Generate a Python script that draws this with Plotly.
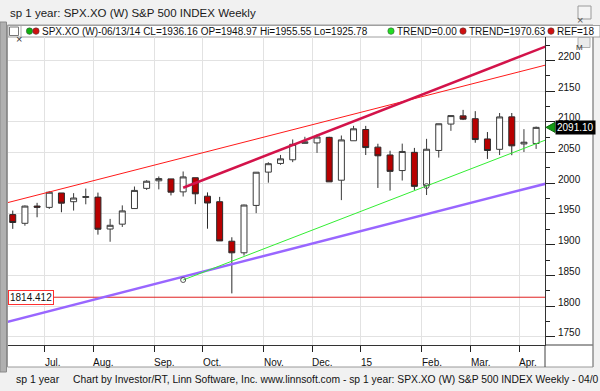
import plotly.graph_objects as go
import pandas as pd

# ---------------- data ----------------
first_bar = "2014-06-13"
opens  = [1948.97, 1934.84, 1962.92, 1960.79, 1984.22, 1970.00, 1976.93, 1977.50, 1925.50, 1933.43,
          1958.87, 1991.74, 2004.07, 2007.17, 1986.04, 2009.08, 1978.96, 1970.01, 1905.65, 1886.76,
          1963.96, 2018.21, 2032.36, 2038.29, 2065.07, 2065.78, 2074.84, 2005.03, 2069.28, 2087.63,
          2058.90, 2046.13, 2020.76, 2050.42, 1996.67, 2053.47, 2096.47, 2109.83, 2105.23, 2072.25,
          2055.35, 2108.20, 2064.11, 2064.87]
highs  = [1955.55, 1963.91, 1968.17, 1987.00, 1984.22, 1983.94, 1991.39, 1984.85, 1942.00, 1964.04,
          1994.76, 2005.04, 2011.17, 2007.17, 2019.26, 2009.08, 1985.17, 1977.84, 1912.09, 1965.27,
          2018.19, 2034.26, 2046.18, 2071.46, 2075.76, 2079.47, 2075.78, 2077.85, 2093.55, 2093.55,
          2064.43, 2053.00, 2064.62, 2057.62, 2072.40, 2097.03, 2110.61, 2119.59, 2117.52, 2083.49,
          2114.50, 2114.50, 2088.16, 2092.40]
lows   = [1925.78, 1930.91, 1944.69, 1958.22, 1952.86, 1955.59, 1965.77, 1916.37, 1904.78, 1928.89,
          1958.87, 1989.21, 1990.10, 1980.26, 1978.48, 1965.99, 1926.03, 1906.05, 1820.66, 1882.30,
          1951.37, 2001.01, 2030.17, 2034.46, 2064.75, 2049.57, 2002.33, 1972.56, 2069.28, 2046.04,
          1992.44, 1988.12, 2004.49, 1989.18, 1980.90, 2041.88, 2085.44, 2103.00, 2066.04, 2039.69,
          2046.01, 2045.79, 2051.00, 2056.00]
closes = [1936.16, 1962.87, 1960.96, 1985.44, 1967.57, 1976.00, 1978.34, 1925.15, 1931.59, 1955.06,
          1988.40, 2003.37, 2007.71, 1985.54, 2010.40, 1982.85, 1967.90, 1906.13, 1886.76, 1964.58,
          2018.05, 2031.92, 2039.82, 2063.50, 2067.56, 2075.37, 2002.33, 2070.65, 2088.77, 2058.20,
          2044.81, 2019.42, 2051.82, 1994.99, 2055.47, 2096.99, 2110.30, 2104.50, 2071.26, 2053.40,
          2108.10, 2061.02, 2066.96, 2091.10]
month_labels = ["Jul.", "Aug.", "Sep.", "Oct.", "Nov.", "Dec.", "15", "Feb.", "Mar.", "Apr."]

# trend lines (bar index, price)
red_trend_x = [-0.5, 44.0]
red_trend_y = [1968.10, 2193.70]
crimson_trend_x = [14.0, 44.0]
crimson_trend_y = [1992.8, 2224.5]
green_trend_x = [14.0, 34.0, 44.0]
green_trend_y = [1842.5, 1995.6, 2072.2]
purple_trend_x = [-0.5, 44.0]
purple_trend_y = [1774.0, 2000.5]
ref_level = 1814.412
green_trend_at_first = 0.00
red_trend_at_first = 1970.63

# ---------------- layout geometry ----------------
W, H = 600, 391
L, R, T, B = 8, 55, 37, 46
PW, PH = W - L - R, H - T - B
XMIN, XMAX = -0.39, 43.73
YMIN, YMAX = 1736.6, 2238.3
FONT = "Liberation Sans"


def fx(px):
    return (px - L) / PW


def fy(py):
    return (H - B - py) / PH


n = len(closes)
xs = list(range(n))
bar_dates = pd.date_range(first_bar, periods=n, freq="7D")
tick_idx = [i for i in range(1, n) if bar_dates[i].month != bar_dates[i - 1].month]
tick_pos = [i - 0.39 for i in tick_idx]

fig = go.Figure()

fig.add_trace(go.Candlestick(
    x=xs, open=opens, high=highs, low=lows, close=closes,
    increasing=dict(fillcolor="#ffffff", line=dict(color="#3a3a3a", width=1)),
    decreasing=dict(fillcolor="#b80000", line=dict(color="#2a2a2a", width=1)),
    whiskerwidth=0, hoverinfo="skip", showlegend=False,
))

fig.add_trace(go.Scatter(x=[XMIN - 1, XMAX + 1], y=[ref_level, ref_level], mode="lines",
                         line=dict(color="#e02020", width=1), hoverinfo="skip", showlegend=False))
fig.add_trace(go.Scatter(x=red_trend_x, y=red_trend_y, mode="lines",
                         line=dict(color="#ff1a1a", width=1), hoverinfo="skip", showlegend=False))
fig.add_trace(go.Scatter(x=purple_trend_x, y=purple_trend_y, mode="lines",
                         line=dict(color="#9966ff", width=2.5), hoverinfo="skip", showlegend=False))
fig.add_trace(go.Scatter(x=green_trend_x, y=green_trend_y, mode="lines",
                         line=dict(color="#33ee33", width=1), hoverinfo="skip", showlegend=False))
fig.add_trace(go.Scatter(x=green_trend_x[:2], y=green_trend_y[:2], mode="markers",
                         marker=dict(symbol="circle-open", size=5, color="#555555", line=dict(width=1)),
                         hoverinfo="skip", showlegend=False, cliponaxis=False))
fig.add_trace(go.Scatter(x=crimson_trend_x, y=crimson_trend_y, mode="lines",
                         line=dict(color="#d3134a", width=2.5), hoverinfo="skip", showlegend=False))

shapes = []
ann = []

# window chrome
shapes.append(dict(type="rect", xref="paper", yref="paper", x0=fx(0), x1=fx(6.5), y0=fy(22), y1=fy(372),
                   fillcolor="#b0b0b0", line=dict(color="#8a8a8a", width=1), layer="below"))
shapes.append(dict(type="rect", xref="paper", yref="paper", x0=fx(7.5), x1=fx(593), y0=fy(25), y1=fy(367),
                   fillcolor="#ffffff", line=dict(color="#9a9a9a", width=1), layer="below"))
# legend row box
shapes.append(dict(type="rect", xref="paper", yref="paper", x0=fx(8), x1=fx(600), y0=fy(25.5), y1=fy(37),
                   fillcolor="#ffffff", line=dict(color="#a0a0a0", width=1), layer="below"))
# right panel borders
shapes.append(dict(type="line", xref="paper", yref="paper", x0=fx(545), x1=fx(545), y0=fy(345), y1=fy(367),
                   line=dict(color="#404040", width=1)))
shapes.append(dict(type="line", xref="paper", yref="paper", x0=fx(545), x1=fx(593), y0=fy(345), y1=fy(345),
                   line=dict(color="#404040", width=1)))
shapes.append(dict(type="line", xref="paper", yref="paper", x0=fx(593), x1=fx(593), y0=fy(37), y1=fy(367),
                   line=dict(color="#8a8a8a", width=1)))
# close box
shapes.append(dict(type="rect", xref="paper", yref="paper", x0=fx(578), x1=fx(591), y0=fy(6), y1=fy(19),
                   fillcolor="#f4f4f4", line=dict(color="#9a9a9a", width=1)))
ann.append(dict(x=fx(584.5), y=fy(12.5), xref="paper", yref="paper", text="×", showarrow=False,
                font=dict(family=FONT, size=11, color="#555555")))
# M button
shapes.append(dict(type="rect", xref="paper", yref="paper", x0=fx(578), x1=fx(590), y0=fy(37.5), y1=fy(47.5),
                   fillcolor="#ebebeb", line=dict(color="#b0b0b0", width=1)))
ann.append(dict(x=fx(584), y=fy(42.3), xref="paper", yref="paper", text="M", showarrow=False,
                borderpad=0, font=dict(family=FONT, size=8, color="#333333")))
# legend X box and icons
shapes.append(dict(type="rect", xref="paper", yref="paper", x0=fx(9.5), x1=fx(18.5), y0=fy(27), y1=fy(35.5),
                   fillcolor="#ffffff", line=dict(color="#777777", width=1)))
ann.append(dict(x=fx(14), y=fy(31.2), xref="paper", yref="paper", text="×", showarrow=False,
                font=dict(family=FONT, size=11, color="#333333")))
shapes.append(dict(type="line", xref="paper", yref="paper", x0=fx(21), x1=fx(21), y0=fy(26), y1=fy(36.5),
                   line=dict(color="#b0b0b0", width=1)))


def dot(cx, color):
    shapes.append(dict(type="circle", xref="paper", yref="paper", x0=fx(cx - 3.2), x1=fx(cx + 3.2),
                       y0=fy(27.8), y1=fy(34.4), fillcolor=color, line=dict(color="#404040", width=0.5)))


def legtext(x, s):
    ann.append(dict(x=fx(x), y=fy(31.3), xref="paper", yref="paper", text=s, showarrow=False,
                    xanchor="left", yanchor="middle", font=dict(family=FONT, size=10, color="#111111")))


o0, h0, l0, c0 = opens[0], highs[0], lows[0], closes[0]
dot(29.5, "#10b010")
dot(36.0, "#d01010")
legtext(40, f"SPX.XO (W)-{bar_dates[0]:%m/%d/%y} CL={c0:.2f} OP={o0:.2f} Hi={h0:.2f} Lo={l0:.2f}")
dot(391, "#22dd22")
legtext(395, f"TREND={green_trend_at_first:.2f}")
dot(463, "#d01010")
legtext(467, f"TREND={red_trend_at_first:.2f}")
dot(551, "#d01010")
legtext(555, f"REF={ref_level:.3f}"[:6])

# title and footer
ann.append(dict(x=fx(8), y=fy(13), xref="paper", yref="paper", text="sp 1 year: SPX.XO (W) S&P 500 INDEX Weekly",
                showarrow=False, xanchor="left", yanchor="middle", font=dict(family=FONT, size=11.5, color="#1a1a1a")))
ann.append(dict(x=fx(14), y=fy(379.5), xref="paper", yref="paper", text="sp 1 year",
                showarrow=False, xanchor="left", yanchor="middle", font=dict(family=FONT, size=10.5, color="#111111")))
ann.append(dict(x=fx(71), y=fy(379.5), xref="paper", yref="paper",
                text="Chart by Investor/RT, Linn Software, Inc. www.linnsoft.com - sp 1 year: SPX.XO (W) S&P 500 INDEX Weekly - 04/0",
                showarrow=False, xanchor="left", yanchor="middle", font=dict(family=FONT, size=10.3, color="#111111")))

# x month labels (left-aligned at tick)
for tp, lab in zip(tick_pos, month_labels):
    ann.append(dict(x=tp, y=fy(362), xref="x", yref="paper", text=lab, showarrow=False,
                    xanchor="left", yanchor="middle", xshift=-2, font=dict(family=FONT, size=10, color="#111111")))

# REF label
ann.append(dict(x=XMIN, y=ref_level, xref="x", yref="y", text=f"{ref_level:.3f}", showarrow=False,
                xanchor="left", yanchor="middle", bgcolor="#ffffff", bordercolor="#ff3030", borderwidth=1,
                borderpad=1, font=dict(family=FONT, size=10, color="#111111")))

# last price marker
last = closes[-1]
dy = 5 / (PH / (YMAX - YMIN))
shapes.append(dict(type="path", xref="paper", yref="y",
                   path=f"M {fx(546)},{last} L {fx(555)},{last + dy} L {fx(555)},{last - dy} Z",
                   fillcolor="#139a13", line=dict(color="#0a700a", width=1)))
ann.append(dict(x=fx(555), y=last, xref="paper", yref="y", text=f"{last:.2f}", showarrow=False,
                xanchor="left", yanchor="middle", bgcolor="#000000", borderpad=1,
                font=dict(family=FONT, size=10, color="#ffffff")))

fig.update_layout(
    width=W, height=H,
    margin=dict(l=L, r=R, t=T, b=B, pad=0),
    paper_bgcolor="#f1f1f1", plot_bgcolor="#ffffff",
    showlegend=False,
    shapes=shapes, annotations=ann,
    font=dict(family=FONT, size=10, color="#111111"),
    xaxis=dict(range=[XMIN, XMAX], rangeslider=dict(visible=False), tickmode="array", tickvals=tick_pos,
               showticklabels=False, ticks="outside", ticklen=6, tickcolor="#222222",
               showgrid=True, gridcolor="#e2e2e2", gridwidth=1, showline=True, linecolor="#333333",
               zeroline=False, fixedrange=True),
    yaxis=dict(range=[YMIN, YMAX], side="right", dtick=50, tick0=0, ticks="outside", ticklen=9,
               tickcolor="#222222", showline=True, linecolor="#333333", showgrid=True, gridcolor="#e2e2e2",
               zeroline=False, ticklabelshift=-4, ticklabelstandoff=1,
               tickfont=dict(family=FONT, size=10, color="#111111"),
               minor=dict(dtick=25, ticks="outside", ticklen=4, tickcolor="#222222", showgrid=False)),
)

fig.write_html("out.html", config={"displayModeBar": False, "staticPlot": True},
               post_script="document.body.style.margin='0px';document.body.style.overflow='hidden';")
